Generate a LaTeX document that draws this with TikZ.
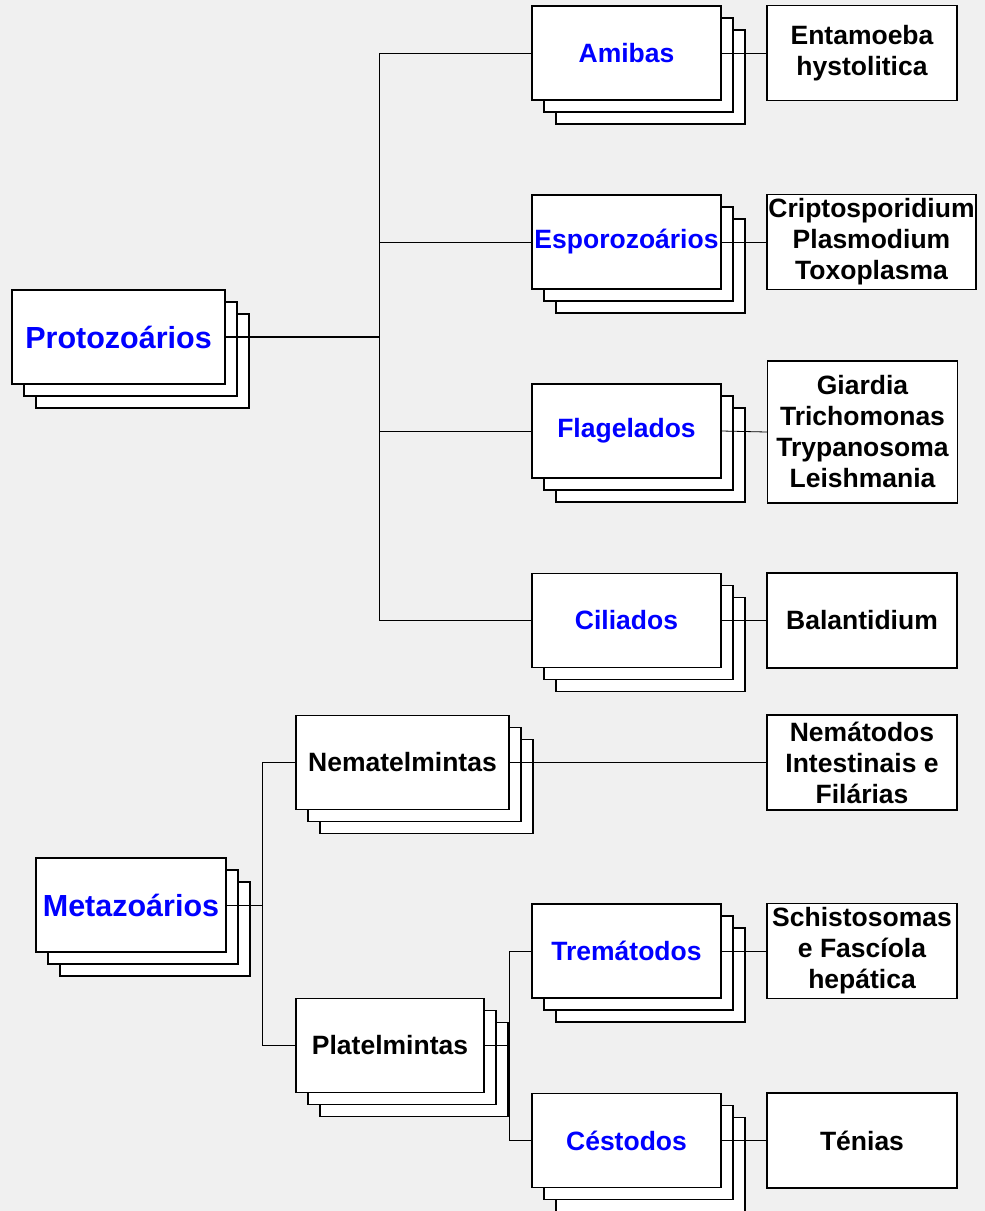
\documentclass[tikz,border=0pt]{standalone}
\usepackage{fontspec}
\setmainfont{Liberation Sans}
\usetikzlibrary{shadows}
\begin{document}
\begin{tikzpicture}[x=1pt, y=-1pt,
  every node/.style={inner sep=0pt, align=center, font=\fontsize{26.5}{31}\selectfont\bfseries},
  stack/.style={
    general shadow={shadow xshift=24pt, shadow yshift=-24pt, fill=white, draw=black, line width=1.5pt},
    general shadow={shadow xshift=12pt, shadow yshift=-12pt, fill=white, draw=black, line width=1.5pt}},
  grupo/.style={stack, draw, fill=white, line width=1.5pt, minimum width=189pt, minimum height=94pt},
  especie/.style={draw, fill=white, line width=1.5pt, minimum width=190pt, minimum height=95pt},
  azul/.style={text=blue},
  ramo/.style={line width=0.8pt}]
\fill[black!6] (0, 0) rectangle (985, 1211);
\useasboundingbox (0, 0) rectangle (985, 1211);
\node[grupo, azul, minimum width=213pt, font=\fontsize{30.5}{36}\selectfont\bfseries] (proto) at (118.5, 337) {Protozoários};
\node[grupo, azul] (amibas) at (626.5, 53) {Amibas};
\node[grupo, azul] (esporo) at (626.5, 242) {Esporozoários};
\node[grupo, azul] (flagel) at (626.5, 431) {Flagelados};
\node[grupo, azul] (cilia) at (626.5, 620.5) {Ciliados};
\node[especie] (entam) at (862, 53) {Entamoeba\\hystolitica};
\node[especie, minimum width=209pt] (cripto) at (871.5, 242) {Criptosporidium\\Plasmodium\\Toxoplasma};
\node[especie, minimum height=142pt] (giard) at (862.5, 432) {Giardia\\Trichomonas\\Trypanosoma\\Leishmania};
\node[especie] (balan) at (862, 620.5) {Balantidium};
\node[grupo, azul, minimum width=190pt, font=\fontsize{30.5}{36}\selectfont\bfseries] (meta) at (131, 905) {Metazoários};
\node[grupo, minimum width=213pt] (nemat) at (402.5, 762.5) {Nematelmintas};
\node[grupo, minimum width=188pt] (platel) at (390, 1045.5) {Platelmintas};
\node[grupo, azul] (trema) at (626.5, 951) {Tremátodos};
\node[grupo, azul] (cesto) at (626.5, 1140.5) {Céstodos};
\node[especie] (nemato) at (862, 762.5) {Nemátodos\\Intestinais e\\Filárias};
\node[especie] (schis) at (862, 951) {Schistosomas\\e Fascíola\\hepática};
\node[especie] (tenia) at (862, 1140.5) {Ténias};
\coordinate (pj) at (379, 337);
\coordinate (mj) at (262, 905);
\coordinate (plj) at (509, 1045.5);
\draw[line width=1.3pt] (proto.east) -- (pj);
\draw[ramo] (pj) |- (amibas.west);
\draw[ramo] (pj) |- (esporo.west);
\draw[ramo] (pj) |- (flagel.west);
\draw[ramo] (pj) |- (cilia.west);
\draw[ramo] (amibas.east) -- (entam.west);
\draw[ramo] (esporo.east) -- (cripto.west);
\draw[ramo] (flagel.east) -- (giard.west);
\draw[ramo] (cilia.east) -- (balan.west);
\draw[ramo] (meta.east) -- (mj);
\draw[ramo] (mj) |- (nemat.west);
\draw[ramo] (mj) |- (platel.west);
\draw[ramo] (nemat.east) -- (nemato.west);
\draw[ramo] (platel.east) -- (plj);
\draw[ramo] (plj) |- (trema.west);
\draw[ramo] (plj) |- (cesto.west);
\draw[ramo] (trema.east) -- (schis.west);
\draw[ramo] (cesto.east) -- (tenia.west);
\end{tikzpicture}
\end{document}
